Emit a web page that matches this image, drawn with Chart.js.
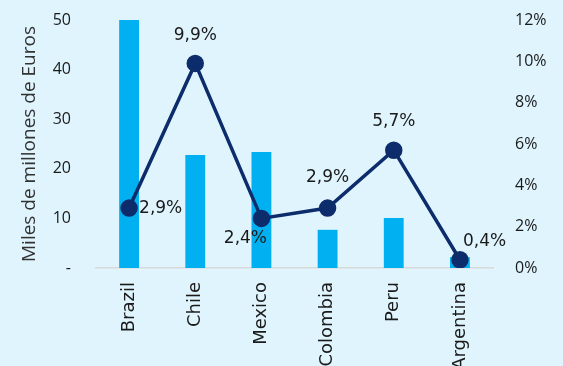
<!DOCTYPE html>
<html><head><meta charset="utf-8">
<script src="https://cdn.jsdelivr.net/npm/chart.js@4/dist/chart.umd.min.js"></script>
<style>html,body{margin:0;padding:0;background:#dff4fd;}#wrap{width:563px;height:366px;}</style>
</head><body><div id="wrap"><canvas id="c" width="563" height="366"></canvas></div>
<script>
const categories = ['Brazil','Chile','Mexico','Colombia','Peru','Argentina'];
const investment = [50.5, 22.8, 23.4, 7.7, 10.1, 2.2];
const share = [0.029, 0.099, 0.024, 0.029, 0.057, 0.004];
const shareLabels = ['2,9%','9,9%','2,4%','2,9%','5,7%','0,4%'];
const leftTicks = [0,10,20,30,40,50];
const rightTicks = [0,0.02,0.04,0.06,0.08,0.10,0.12];

const labelPlugin = {
  id:'lbl',
  afterDatasetsDraw(chart){
    const ctx = chart.ctx;
    const meta = chart.getDatasetMeta(1);
    const place = [
      {dx:10,dy:1,align:'left'},
      {dx:0,dy:-28,align:'center'},
      {dx:-16,dy:20,align:'center'},
      {dx:0,dy:-30,align:'center'},
      {dx:0,dy:-29,align:'center'},
      {dx:3,dy:-18,align:'left'}
    ];
    ctx.save();
    ctx.font = '17px "DejaVu Sans"';
    ctx.fillStyle = '#1a1a1a';
    ctx.textBaseline = 'middle';
    meta.data.forEach((pt,i)=>{
      const p = place[i];
      ctx.textAlign = p.align;
      ctx.fillText(shareLabels[i], pt.x + p.dx, pt.y + p.dy);
    });
    ctx.restore();
  }
};

new Chart(document.getElementById('c'), {
  data:{
    labels:categories,
    datasets:[
      {type:'bar', data:investment, backgroundColor:'#00b0f0', yAxisID:'y', order:2,
       barPercentage:0.3, categoryPercentage:1},
      {type:'line', data:share, borderColor:'#0d2c6b', backgroundColor:'#0d2c6b', borderWidth:3.5,
       pointRadius:7, pointHoverRadius:7, yAxisID:'y1', order:1, tension:0}
    ]
  },
  options:{
    responsive:false, animation:false,
    layout:{padding:{top:20,left:0,right:0,bottom:0}},
    plugins:{legend:{display:false}, tooltip:{enabled:false}},
    scales:{
      x:{
        grid:{display:false, drawTicks:false},
        border:{display:true, color:'#d9d9d9', width:1.5},
        ticks:{maxRotation:90, minRotation:90, padding:14, color:'#1a1a1a', font:{family:'DejaVu Sans', size:18}},
        afterFit(s){ s.height = 98; }
      },
      y:{
        position:'left', min:0, max:50,
        afterBuildTicks(s){ s.ticks = leftTicks.map(v=>({value:v})); },
        grid:{display:false, drawTicks:true, tickLength:21},
        border:{display:false},
        ticks:{padding:4, color:'#1a1a1a', font:{family:'Open Sans', size:16},
          callback:v=> v===0 ? '-' : String(v)},
        title:{display:true, text:'Miles de millones de Euros', color:'#333', font:{family:'Open Sans', size:19}, padding:{top:18,bottom:0}},
        afterFit(s){ s.width = 96; }
      },
      y1:{
        position:'right', min:0, max:0.12,
        afterBuildTicks(s){ s.ticks = rightTicks.map(v=>({value:v})); },
        grid:{display:false, drawTicks:true, tickLength:18},
        border:{display:false},
        ticks:{padding:4, color:'#1a1a1a', font:{family:'Open Sans', size:16},
          callback:v=> Math.round(v*100)+'%'},
        afterFit(s){ s.width = 70; }
      }
    }
  },
  plugins:[labelPlugin]
});
</script></body></html>
